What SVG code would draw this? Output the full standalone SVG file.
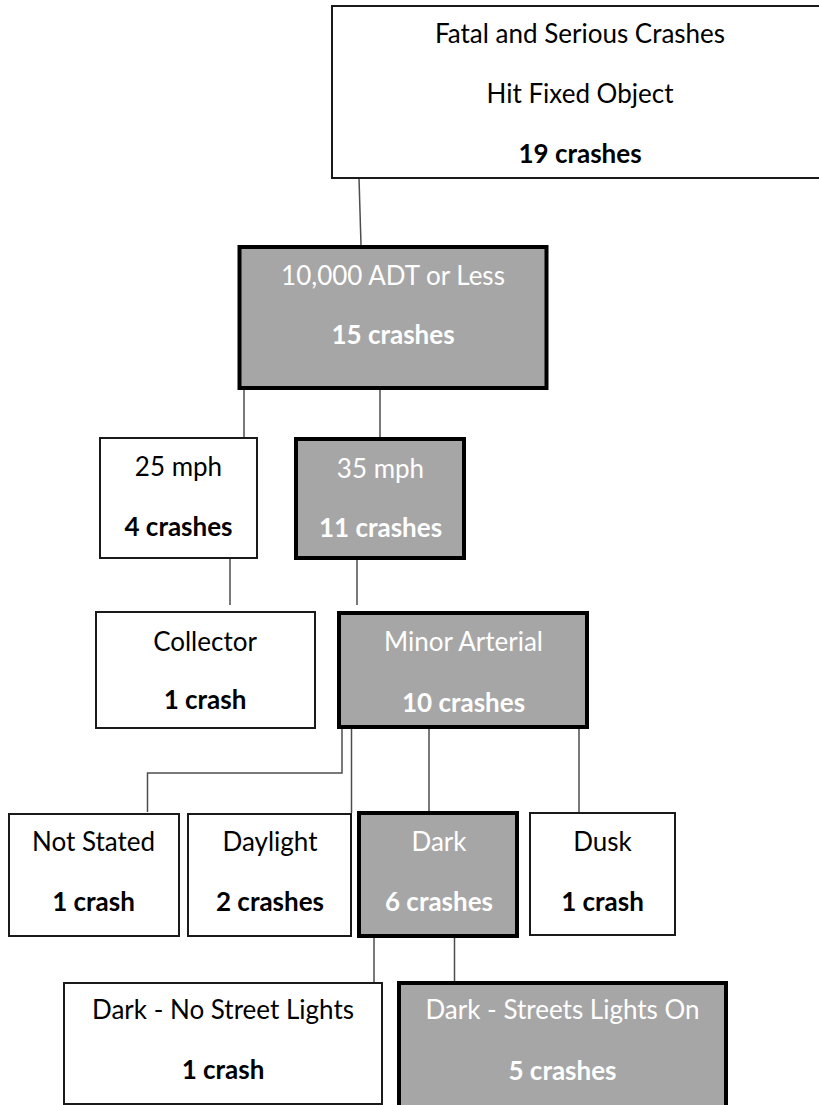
<svg xmlns="http://www.w3.org/2000/svg" width="819" height="1105" viewBox="0 0 819 1105">
<style>
.box{fill:#ffffff;stroke:#1a1a1a;stroke-width:2}
.hl{fill:#a6a6a6;stroke:#000000;stroke-width:4}
.t{font-family:Lato,"Liberation Sans",sans-serif;font-size:26px;text-anchor:middle;fill:#000000}
.b{font-weight:bold}
.w{fill:#ffffff}
.c{fill:none;stroke:#4d4d4d;stroke-width:1.5}
</style>
<rect x="0" y="0" width="819" height="1105" fill="#ffffff"/>
<g id="connectors">
<path class="c" d="M359,178 L361,245"/>
<path class="c" d="M244,390 L244,438"/>
<path class="c" d="M380,390 L380,437"/>
<path class="c" d="M230,558 L230,605"/>
<path class="c" d="M357,560 L357,605"/>
<path class="c" d="M342,729 L342,773 L147.5,773 L147.5,812"/>
<path class="c" d="M351.5,729 L351.5,813"/>
<path class="c" d="M429,729 L429,811"/>
<path class="c" d="M579,729 L579,812"/>
<path class="c" d="M374,937 L374,982"/>
<path class="c" d="M454.5,937 L454.5,981"/>
</g>
<g id="root">
<rect class="box" x="332" y="6" width="490" height="172"/>
<text class="t" x="580" y="43">Fatal and Serious Crashes</text>
<text class="t" x="580" y="103">Hit Fixed Object</text>
<text class="t b" x="580" y="163">19 crashes</text>
</g>
<g id="adt">
<rect class="hl" x="239.5" y="247" width="307" height="141"/>
<text class="t w" x="393" y="285">10,000 ADT or Less</text>
<text class="t w b" x="393" y="344">15 crashes</text>
</g>
<g id="mph25">
<rect class="box" x="100" y="438" width="157" height="120"/>
<text class="t" x="178.5" y="476">25 mph</text>
<text class="t b" x="178.5" y="536">4 crashes</text>
</g>
<g id="mph35">
<rect class="hl" x="296" y="439" width="168" height="119"/>
<text class="t w" x="380.5" y="478">35 mph</text>
<text class="t w b" x="380.5" y="537">11 crashes</text>
</g>
<g id="collector">
<rect class="box" x="96" y="612" width="219" height="116"/>
<text class="t" x="205" y="651">Collector</text>
<text class="t b" x="205" y="709">1 crash</text>
</g>
<g id="minor">
<rect class="hl" x="339" y="613" width="248" height="114"/>
<text class="t w" x="463.5" y="651">Minor Arterial</text>
<text class="t w b" x="463.5" y="712">10 crashes</text>
</g>
<g id="notstated">
<rect class="box" x="9" y="814" width="170" height="122"/>
<text class="t" x="93.5" y="851">Not Stated</text>
<text class="t b" x="93.5" y="911">1 crash</text>
</g>
<g id="daylight">
<rect class="box" x="188" y="814" width="163" height="122"/>
<text class="t" x="270" y="851">Daylight</text>
<text class="t b" x="270" y="911">2 crashes</text>
</g>
<g id="dark">
<rect class="hl" x="359" y="813" width="158" height="123"/>
<text class="t w" x="439" y="851">Dark</text>
<text class="t w b" x="439" y="911">6 crashes</text>
</g>
<g id="dusk">
<rect class="box" x="530" y="813" width="145" height="122"/>
<text class="t" x="602.5" y="851">Dusk</text>
<text class="t b" x="602.5" y="911">1 crash</text>
</g>
<g id="nolights">
<rect class="box" x="64" y="983" width="318" height="121"/>
<text class="t" x="223" y="1019">Dark - No Street Lights</text>
<text class="t b" x="223" y="1079">1 crash</text>
</g>
<g id="lightson">
<rect class="hl" x="399" y="983" width="327" height="130"/>
<text class="t w" x="562.5" y="1019">Dark - Streets Lights On</text>
<text class="t w b" x="562.5" y="1080">5 crashes</text>
</g>
</svg>
